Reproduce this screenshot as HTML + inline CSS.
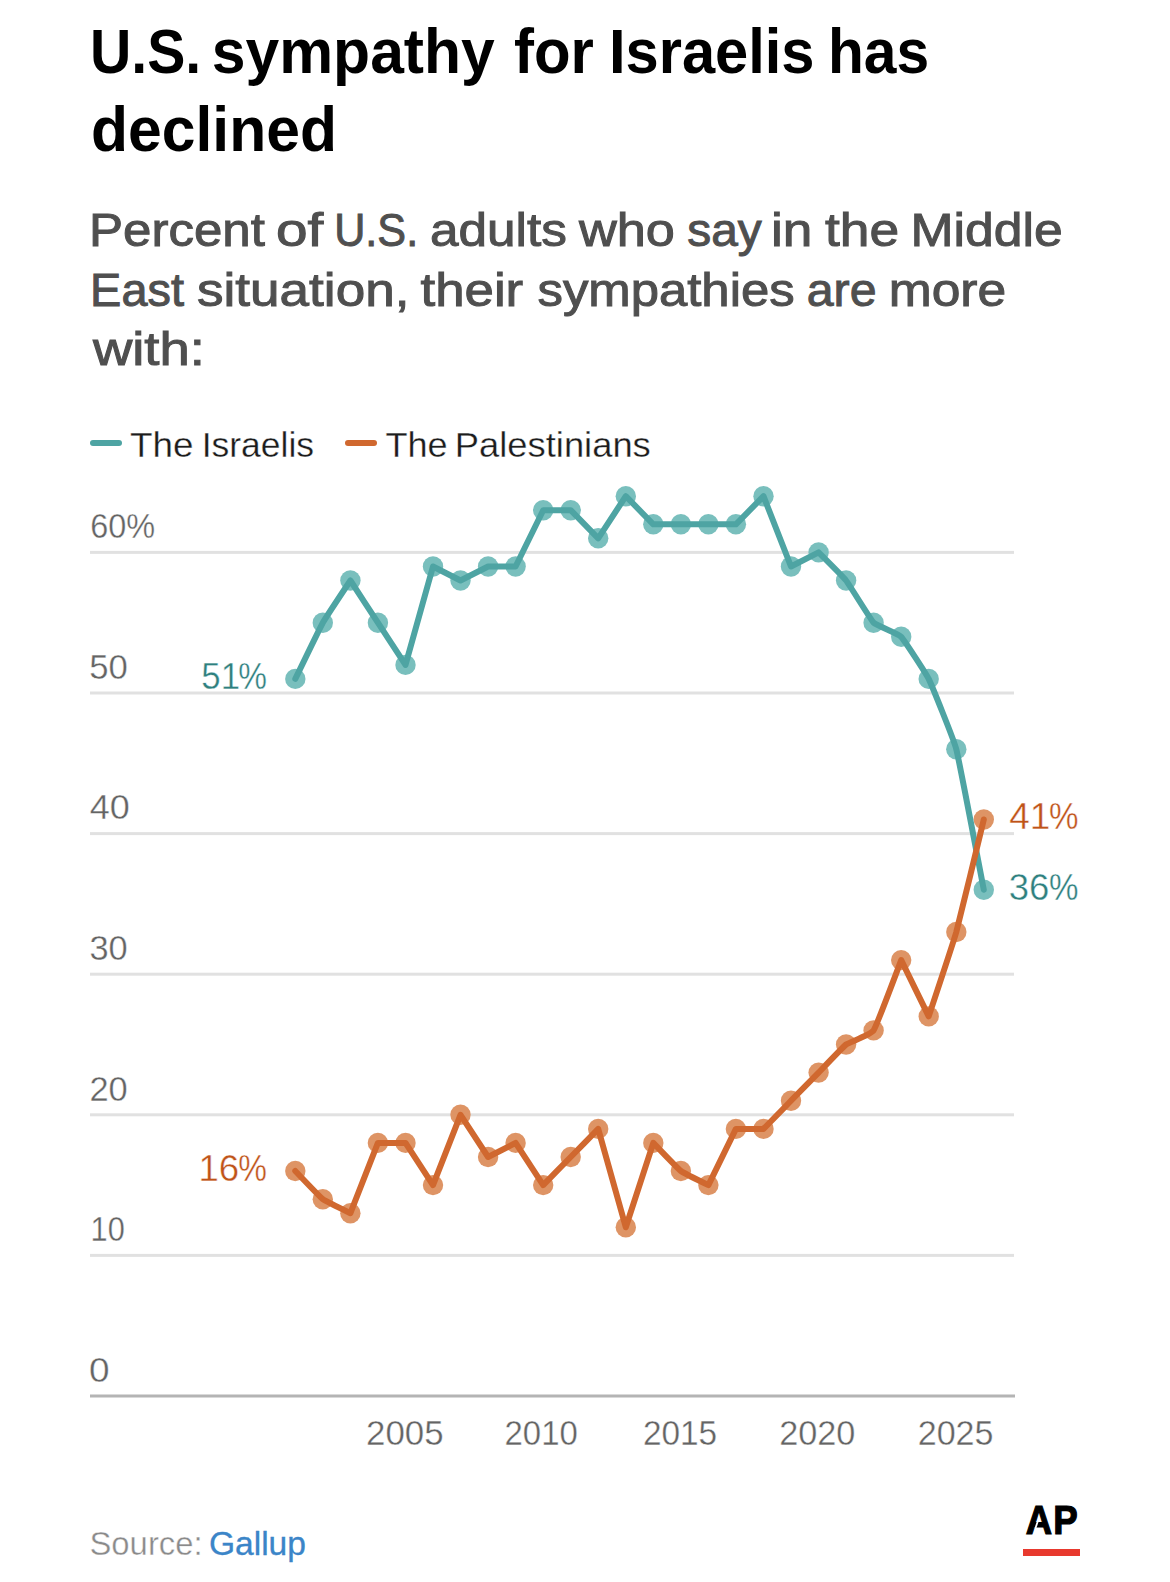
<!DOCTYPE html>
<html lang="en"><head><meta charset="utf-8"><title>U.S. sympathy for Israelis has declined</title>
<style>
html,body{margin:0;padding:0;background:#fff}
body{width:1170px;height:1582px;overflow:hidden}
svg{display:block}
text{font-family:"Liberation Sans",Arial,sans-serif}
.t{font-weight:bold;font-size:62.5px;fill:#000}
.s{font-size:47px;fill:#4f4f4f;stroke:#4f4f4f;stroke-width:1px}
.lg{font-size:35px;fill:#1c1c1c;stroke:#fff;stroke-width:0.3px}
.ax{font-size:34.5px;fill:#646464;stroke:#fff;stroke-width:0.35px}
.lb{font-size:36.5px;stroke:#fff;stroke-width:0.4px}
.src{font-size:33px;fill:#8a8a8a}
.ap{font-weight:bold;font-size:40px;fill:#000;stroke:#000;stroke-width:1.2px}
</style></head><body>
<svg width="1170" height="1582" viewBox="0 0 1170 1582">
<rect width="1170" height="1582" fill="#fff"/>
<text class="t" y="73"><tspan x="89.94" textLength="111.27" lengthAdjust="spacingAndGlyphs">U.S.</tspan> <tspan x="211.81" textLength="282.99" lengthAdjust="spacingAndGlyphs">sympathy</tspan> <tspan x="514.02" textLength="79.95" lengthAdjust="spacingAndGlyphs">for</tspan> <tspan x="608.96" textLength="205.56" lengthAdjust="spacingAndGlyphs">Israelis</tspan> <tspan x="827.91" textLength="101.13" lengthAdjust="spacingAndGlyphs">has</tspan></text>
<text class="t" y="150.6"><tspan x="91.02" textLength="245.95" lengthAdjust="spacingAndGlyphs">declined</tspan></text>
<text class="s" y="246"><tspan x="89.02" textLength="175.80" lengthAdjust="spacingAndGlyphs">Percent</tspan> <tspan x="275.92" textLength="47.33" lengthAdjust="spacingAndGlyphs">of</tspan> <tspan x="334.21" textLength="83.93" lengthAdjust="spacingAndGlyphs">U.S.</tspan> <tspan x="430.04" textLength="136.90" lengthAdjust="spacingAndGlyphs">adults</tspan> <tspan x="579.00" textLength="95.96" lengthAdjust="spacingAndGlyphs">who</tspan> <tspan x="687.25" textLength="74.47" lengthAdjust="spacingAndGlyphs">say</tspan> <tspan x="770.91" textLength="41.38" lengthAdjust="spacingAndGlyphs">in</tspan> <tspan x="825.00" textLength="74.16" lengthAdjust="spacingAndGlyphs">the</tspan> <tspan x="910.43" textLength="152.23" lengthAdjust="spacingAndGlyphs">Middle</tspan></text>
<text class="s" y="306"><tspan x="90.11" textLength="93.80" lengthAdjust="spacingAndGlyphs">East</tspan> <tspan x="197.00" textLength="212.42" lengthAdjust="spacingAndGlyphs">situation,</tspan> <tspan x="420.51" textLength="102.69" lengthAdjust="spacingAndGlyphs">their</tspan> <tspan x="537.52" textLength="257.12" lengthAdjust="spacingAndGlyphs">sympathies</tspan> <tspan x="806.72" textLength="69.77" lengthAdjust="spacingAndGlyphs">are</tspan> <tspan x="888.78" textLength="117.46" lengthAdjust="spacingAndGlyphs">more</tspan></text>
<text class="s" y="365.3"><tspan x="92.90" textLength="112.02" lengthAdjust="spacingAndGlyphs">with:</tspan></text>
<line x1="93" y1="443" x2="119" y2="443" stroke="#4ea4a3" stroke-width="6" stroke-linecap="round"/>
<text class="lg" y="457"><tspan x="129.92" textLength="63.57" lengthAdjust="spacingAndGlyphs">The</tspan> <tspan x="201.68" textLength="112.42" lengthAdjust="spacingAndGlyphs">Israelis</tspan></text>
<line x1="348" y1="443" x2="374" y2="443" stroke="#d0682f" stroke-width="6" stroke-linecap="round"/>
<text class="lg" y="457"><tspan x="385.40" textLength="62.22" lengthAdjust="spacingAndGlyphs">The</tspan> <tspan x="454.76" textLength="196.06" lengthAdjust="spacingAndGlyphs">Palestinians</tspan></text>
<rect x="90" y="550.9" width="924" height="3" fill="#e1e1e1"/>
<rect x="90" y="691.5" width="924" height="3" fill="#e1e1e1"/>
<rect x="90" y="832.1" width="924" height="3" fill="#e1e1e1"/>
<rect x="90" y="972.7" width="924" height="3" fill="#e1e1e1"/>
<rect x="90" y="1113.3" width="924" height="3" fill="#e1e1e1"/>
<rect x="90" y="1253.9" width="924" height="3" fill="#e1e1e1"/>
<rect x="90" y="1394.5" width="925" height="3" fill="#b4b4b4"/>
<text class="ax" y="538.1"><tspan x="90.23" textLength="64.96" lengthAdjust="spacingAndGlyphs">60%</tspan></text>
<text class="ax" y="678.7"><tspan x="89.21" textLength="38.59" lengthAdjust="spacingAndGlyphs">50</tspan></text>
<text class="ax" y="819.3"><tspan x="89.76" textLength="40.02" lengthAdjust="spacingAndGlyphs">40</tspan></text>
<text class="ax" y="959.9"><tspan x="89.42" textLength="38.26" lengthAdjust="spacingAndGlyphs">30</tspan></text>
<text class="ax" y="1100.5"><tspan x="89.39" textLength="38.30" lengthAdjust="spacingAndGlyphs">20</tspan></text>
<text class="ax" y="1241.1"><tspan x="90.56" textLength="34.17" lengthAdjust="spacingAndGlyphs">10</tspan></text>
<text class="ax" y="1381.7"><tspan x="89.09" textLength="20.56" lengthAdjust="spacingAndGlyphs">0</tspan></text>
<text class="ax" y="1444.7"><tspan x="366.00" textLength="77.56" lengthAdjust="spacingAndGlyphs">2005</tspan> <tspan x="504.53" textLength="73.26" lengthAdjust="spacingAndGlyphs">2010</tspan> <tspan x="642.93" textLength="74.27" lengthAdjust="spacingAndGlyphs">2015</tspan> <tspan x="779.18" textLength="76.21" lengthAdjust="spacingAndGlyphs">2020</tspan> <tspan x="917.68" textLength="75.84" lengthAdjust="spacingAndGlyphs">2025</tspan></text>
<g fill="#de9465"><circle cx="295.3" cy="1171.0" r="10.2"/><circle cx="322.8" cy="1199.2" r="10.2"/><circle cx="350.4" cy="1213.2" r="10.2"/><circle cx="377.9" cy="1142.9" r="10.2"/><circle cx="405.5" cy="1142.9" r="10.2"/><circle cx="433.0" cy="1185.1" r="10.2"/><circle cx="460.5" cy="1114.8" r="10.2"/><circle cx="488.1" cy="1157.0" r="10.2"/><circle cx="515.6" cy="1142.9" r="10.2"/><circle cx="543.2" cy="1185.1" r="10.2"/><circle cx="570.7" cy="1157.0" r="10.2"/><circle cx="598.2" cy="1128.9" r="10.2"/><circle cx="625.8" cy="1227.3" r="10.2"/><circle cx="653.3" cy="1142.9" r="10.2"/><circle cx="680.9" cy="1171.0" r="10.2"/><circle cx="708.4" cy="1185.1" r="10.2"/><circle cx="735.9" cy="1128.9" r="10.2"/><circle cx="763.5" cy="1128.9" r="10.2"/><circle cx="791.0" cy="1100.7" r="10.2"/><circle cx="818.6" cy="1072.6" r="10.2"/><circle cx="846.1" cy="1044.5" r="10.2"/><circle cx="873.6" cy="1030.4" r="10.2"/><circle cx="901.2" cy="960.1" r="10.2"/><circle cx="928.7" cy="1016.4" r="10.2"/><circle cx="956.3" cy="932.0" r="10.2"/><circle cx="983.8" cy="819.5" r="10.2"/></g>
<g fill="#79bfbd"><circle cx="295.3" cy="678.9" r="10.2"/><circle cx="322.8" cy="622.7" r="10.2"/><circle cx="350.4" cy="580.5" r="10.2"/><circle cx="377.9" cy="622.7" r="10.2"/><circle cx="405.5" cy="664.9" r="10.2"/><circle cx="433.0" cy="566.5" r="10.2"/><circle cx="460.5" cy="580.5" r="10.2"/><circle cx="488.1" cy="566.5" r="10.2"/><circle cx="515.6" cy="566.5" r="10.2"/><circle cx="543.2" cy="510.2" r="10.2"/><circle cx="570.7" cy="510.2" r="10.2"/><circle cx="598.2" cy="538.3" r="10.2"/><circle cx="625.8" cy="496.2" r="10.2"/><circle cx="653.3" cy="524.3" r="10.2"/><circle cx="680.9" cy="524.3" r="10.2"/><circle cx="708.4" cy="524.3" r="10.2"/><circle cx="735.9" cy="524.3" r="10.2"/><circle cx="763.5" cy="496.2" r="10.2"/><circle cx="791.0" cy="566.5" r="10.2"/><circle cx="818.6" cy="552.4" r="10.2"/><circle cx="846.1" cy="580.5" r="10.2"/><circle cx="873.6" cy="622.7" r="10.2"/><circle cx="901.2" cy="636.8" r="10.2"/><circle cx="928.7" cy="678.9" r="10.2"/><circle cx="956.3" cy="749.2" r="10.2"/><circle cx="983.8" cy="889.8" r="10.2"/></g>
<path d="M295.3,678.9C295.3,678.9 320.1,627.6 322.8,622.7C325.6,617.8 350.4,580.5 350.4,580.5C350.4,580.5 375.2,618.5 377.9,622.7C380.7,626.9 405.5,664.9 405.5,664.9L433.0,566.5L460.5,580.5L488.1,566.5L515.6,566.5L543.2,510.2L570.7,510.2L598.2,538.3L625.8,496.2L653.3,524.3L680.9,524.3L708.4,524.3L735.9,524.3L763.5,496.2L791.0,566.5L818.6,552.4C818.6,552.4 843.3,577.0 846.1,580.5C848.9,584.0 870.9,619.9 873.6,622.7C876.4,625.5 898.4,633.9 901.2,636.8C903.9,639.6 926.0,673.3 928.7,678.9C931.5,684.6 953.5,738.7 956.3,749.2C959.0,759.8 983.8,889.8 983.8,889.8" fill="none" stroke="#4ea4a3" stroke-width="6" stroke-linecap="round" stroke-linejoin="round"/>
<path d="M295.3,1171.0C295.3,1171.0 320.1,1197.1 322.8,1199.2C325.6,1201.3 350.4,1213.2 350.4,1213.2L377.9,1142.9L405.5,1142.9L433.0,1185.1L460.5,1114.8L488.1,1157.0L515.6,1142.9L543.2,1185.1C543.2,1185.1 567.9,1159.8 570.7,1157.0C573.5,1154.2 598.2,1128.9 598.2,1128.9L625.8,1227.3L653.3,1142.9C653.3,1142.9 678.1,1168.9 680.9,1171.0C683.6,1173.1 708.4,1185.1 708.4,1185.1L735.9,1128.9L763.5,1128.9C763.5,1128.9 788.3,1103.6 791.0,1100.7C793.8,1097.9 815.8,1075.4 818.6,1072.6C821.3,1069.8 843.3,1046.6 846.1,1044.5C848.9,1042.4 870.9,1034.7 873.6,1030.4C876.4,1026.2 901.2,960.1 901.2,960.1L928.7,1016.4C928.7,1016.4 953.5,941.9 956.3,932.0C959.0,922.2 983.8,819.5 983.8,819.5" fill="none" stroke="#d0682f" stroke-width="6" stroke-linecap="round" stroke-linejoin="round"/>
<text class="lb" y="689.2" fill="#2e807e"><tspan x="201.31" textLength="38.70" lengthAdjust="spacingAndGlyphs">51</tspan><tspan x="238.19" textLength="28.65" lengthAdjust="spacingAndGlyphs">%</tspan></text>
<text class="lb" y="1181.3" fill="#bf5318"><tspan x="198.46" textLength="40.74" lengthAdjust="spacingAndGlyphs">16</tspan><tspan x="238.19" textLength="28.65" lengthAdjust="spacingAndGlyphs">%</tspan></text>
<text class="lb" y="829.3" fill="#bf5318"><tspan x="1009.20" textLength="41.08" lengthAdjust="spacingAndGlyphs">41</tspan><tspan x="1049.03" textLength="29.53" lengthAdjust="spacingAndGlyphs">%</tspan></text>
<text class="lb" y="899.6" fill="#2e807e"><tspan x="1008.75" textLength="40.58" lengthAdjust="spacingAndGlyphs">36</tspan><tspan x="1049.07" textLength="29.48" lengthAdjust="spacingAndGlyphs">%</tspan></text>
<text class="src" y="1555"><tspan x="89.46" textLength="113.19" lengthAdjust="spacingAndGlyphs" stroke="#fff" stroke-width="0.4">Source:</tspan> <tspan x="208.90" textLength="97.05" lengthAdjust="spacingAndGlyphs" style="fill:#3b85c8;stroke:#3b85c8;stroke-width:0.3px">Gallup</tspan></text>
<text class="ap" y="1534"><tspan x="1025.83" textLength="26.33" lengthAdjust="spacingAndGlyphs">A</tspan><tspan x="1053.27" textLength="24.47" lengthAdjust="spacingAndGlyphs">P</tspan></text>
<line x1="1038.0" y1="1520.8" x2="1035.4" y2="1528.2" stroke="#fff" stroke-width="1.8"/>
<rect x="1023" y="1549" width="57" height="7" fill="#e8392e"/>
</svg>
</body></html>
